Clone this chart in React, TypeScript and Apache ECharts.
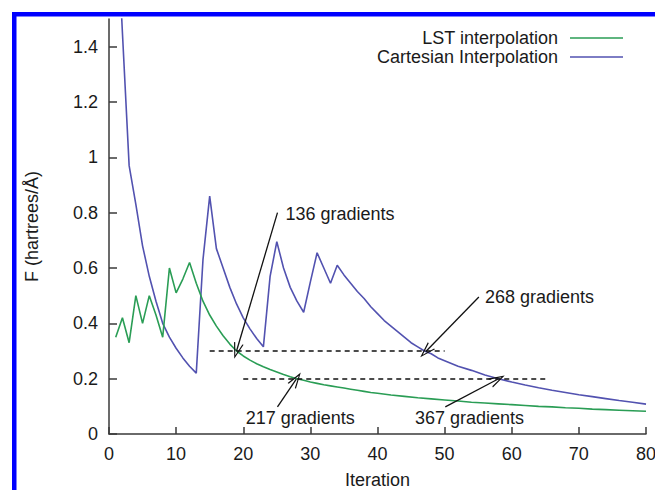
import React, { useEffect, useRef } from "react";
import * as echarts from "echarts";

// ---- Data ----
const lstIter = [
  1, 2, 3, 4, 5, 6, 7, 8, 9, 10, 11, 12, 13, 14, 15, 16, 17, 18, 19, 20,
  21, 22, 23, 24, 25, 26, 27, 28, 29, 30, 31, 32, 33, 34, 35, 36, 37, 38, 39, 40,
  42, 44, 46, 48, 50, 52, 54, 56, 58, 60, 62, 64, 66, 68, 70, 72, 74, 76, 78, 80,
];
const lstF = [
  0.35, 0.42, 0.33, 0.5, 0.4, 0.5, 0.43, 0.35, 0.6, 0.51, 0.56, 0.62, 0.545, 0.48, 0.43, 0.39, 0.355, 0.325, 0.3, 0.282,
  0.267, 0.254, 0.243, 0.233, 0.224, 0.215, 0.207, 0.2, 0.194, 0.188, 0.183, 0.178, 0.174, 0.17, 0.166, 0.162, 0.158, 0.154, 0.15, 0.147,
  0.141, 0.136, 0.131, 0.127, 0.123, 0.119, 0.115, 0.112, 0.109, 0.106, 0.103, 0.1, 0.098, 0.095, 0.093, 0.09, 0.088, 0.086, 0.084, 0.082,
];

const cartIter = [
  1, 2, 3, 4, 5, 6, 7, 8, 9, 10, 11, 12, 13, 14, 15, 16, 17, 18, 19, 20,
  21, 22, 23, 24, 25, 26, 27, 28, 29, 30, 31, 32, 33, 34, 35, 36, 37, 38, 39, 40,
  41, 42, 43, 44, 45, 46, 47, 48, 49, 50, 52, 54, 56, 58, 60, 62, 64, 66, 68, 70,
  72, 74, 76, 78, 80,
];
const cartF = [
  1.95, 1.45, 0.97, 0.83, 0.68, 0.57, 0.48, 0.4, 0.35, 0.31, 0.275, 0.245, 0.22, 0.63, 0.86, 0.67, 0.6, 0.53, 0.47, 0.42,
  0.38, 0.345, 0.315, 0.57, 0.695, 0.6, 0.53, 0.48, 0.44, 0.55, 0.655, 0.6, 0.545, 0.61, 0.575, 0.545, 0.515, 0.49, 0.46, 0.435,
  0.41, 0.39, 0.37, 0.35, 0.33, 0.315, 0.3, 0.29, 0.275, 0.265, 0.245, 0.23, 0.213, 0.2, 0.188, 0.177, 0.167, 0.158, 0.15, 0.142,
  0.135, 0.128, 0.121, 0.115, 0.108,
];

const seriesNames = ["LST interpolation", "Cartesian Interpolation"];
const yTicks = [0, 0.2, 0.4, 0.6, 0.8, 1, 1.2, 1.4];

// dashed reference lines: [x1, y1, x2, y2]
const dashLines = [
  [15, 0.3, 50, 0.3],
  [20, 0.2, 65, 0.2],
];
// arrows: [tailX, tailY, headX, headY]
const arrows = [
  [25.1, 0.8, 19, 0.3],
  [55.1, 0.495, 47.2, 0.298],
  [25.1, 0.098, 27.9, 0.198],
  [50.1, 0.098, 57.9, 0.198],
];
// annotation texts: [text, x, y, anchor]
const notes: [string, number, number, string][] = [
  ["136 gradients", 26.3, 0.794, "left"],
  ["268 gradients", 56.0, 0.495, "left"],
  ["217 gradients", 28.5, 0.058, "center"],
  ["367 gradients", 53.7, 0.058, "center"],
];

const GREEN = "#2a9d55";
const BLUE = "#5252b0";
const FONT = "'Liberation Sans', Arial, Helvetica, sans-serif";
const ARROW = "path://M5,0 L10,14 L8.7,14 L5,3.2 L1.3,14 L0,14 Z";

export default function App() {
  const ref = useRef<HTMLDivElement>(null);

  useEffect(() => {
    if (!ref.current) return;
    const chart = echarts.init(ref.current, undefined, { renderer: "svg" });

    const lstData = lstIter.map((x, i) => [x, lstF[i]]);
    const cartData = cartIter.map((x, i) => [x, cartF[i]]);

    const markLineData: any[] = [];
    dashLines.forEach((d) => {
      markLineData.push([
        { coord: [d[0], d[1]], symbol: "none", lineStyle: { type: [5, 4], width: 1.5, color: "#111" } },
        { coord: [d[2], d[3]], symbol: "none" },
      ]);
    });
    arrows.forEach((a) => {
      markLineData.push([
        { coord: [a[0], a[1]], symbol: "none", lineStyle: { type: "solid", width: 1.3, color: "#111" } },
        { coord: [a[2], a[3]], symbol: ARROW, symbolSize: [10, 16] },
      ]);
    });

    const markPointData = notes.map((n) => ({
      name: n[0],
      coord: [n[1], n[2]],
      symbol: "circle",
      symbolSize: 0,
      label: {
        show: true,
        formatter: "{b}",
        position: n[3] === "left" ? "right" : "inside",
        distance: 0,
        color: "#1a1a1a",
        fontSize: 18,
        fontFamily: FONT,
      },
    }));

    const axisStyle = { color: "#3a3a3a", width: 1.5 };

    chart.setOption({
      animation: false,
      backgroundColor: "#ffffff",
      textStyle: { fontFamily: FONT },
      grid: {
        left: 109,
        right: 9,
        top: 19,
        bottom: 56,
        containLabel: false,
        outerBoundsMode: "none",
      },
      xAxis: {
        type: "value",
        min: 0,
        max: 80,
        interval: 10,
        name: "Iteration",
        nameLocation: "middle",
        nameGap: 37,
        nameTextStyle: { fontSize: 18, color: "#1a1a1a", fontFamily: FONT },
        axisLine: { show: true, lineStyle: axisStyle },
        axisTick: { show: true, inside: true, length: 7, lineStyle: axisStyle },
        axisLabel: { fontSize: 18, color: "#1a1a1a", margin: 11, fontFamily: FONT },
        splitLine: { show: false },
      },
      yAxis: {
        type: "value",
        min: 0,
        max: 1.5,
        name: "F (hartrees/Å)",
        nameLocation: "middle",
        nameGap: 68,
        nameRotate: 90,
        nameTextStyle: { fontSize: 18, color: "#1a1a1a", fontFamily: FONT },
        axisLine: { show: true, lineStyle: axisStyle },
        axisTick: { show: true, inside: true, length: 8, lineStyle: axisStyle, customValues: yTicks },
        axisLabel: { fontSize: 18, color: "#1a1a1a", margin: 11, fontFamily: FONT, customValues: yTicks },
        splitLine: { show: false },
      },
      series: [
        {
          name: seriesNames[0],
          type: "line",
          data: lstData,
          symbol: "none",
          lineStyle: { color: GREEN, width: 1.6 },
          itemStyle: { color: GREEN },
          clip: true,
          z: 3,
        },
        {
          name: seriesNames[1],
          type: "line",
          data: cartData,
          symbol: "none",
          lineStyle: { color: BLUE, width: 1.6 },
          itemStyle: { color: BLUE },
          clip: true,
          z: 2,
          markLine: {
            silent: true,
            symbol: ["none", "none"],
            label: { show: false },
            emphasis: { disabled: true },
            data: markLineData,
          },
          markPoint: {
            silent: true,
            data: markPointData,
          },
        },
      ],
      graphic: [
        { type: "rect", shape: { x: 12, y: 12, width: 643, height: 4.5 }, style: { fill: "#0000ff" }, silent: true },
        { type: "rect", shape: { x: 12, y: 12, width: 4.5, height: 478 }, style: { fill: "#0000ff" }, silent: true },
        {
          type: "text",
          x: 558,
          y: 38,
          style: { text: seriesNames[0], fill: "#1a1a1a", font: `18px ${FONT}`, textAlign: "right", textVerticalAlign: "middle" },
          silent: true,
        },
        {
          type: "text",
          x: 558,
          y: 57,
          style: { text: seriesNames[1], fill: "#1a1a1a", font: `18px ${FONT}`, textAlign: "right", textVerticalAlign: "middle" },
          silent: true,
        },
        { type: "line", shape: { x1: 570, y1: 38, x2: 623, y2: 38 }, style: { stroke: GREEN, lineWidth: 1.6 }, silent: true },
        { type: "line", shape: { x1: 570, y1: 57, x2: 623, y2: 57 }, style: { stroke: BLUE, lineWidth: 1.6 }, silent: true },
      ],
    });

    return () => chart.dispose();
  }, []);

  return (
    <div
      ref={ref}
      style={{ position: "fixed", left: 0, top: 0, width: 655, height: 490, background: "#fff" }}
    />
  );
}
